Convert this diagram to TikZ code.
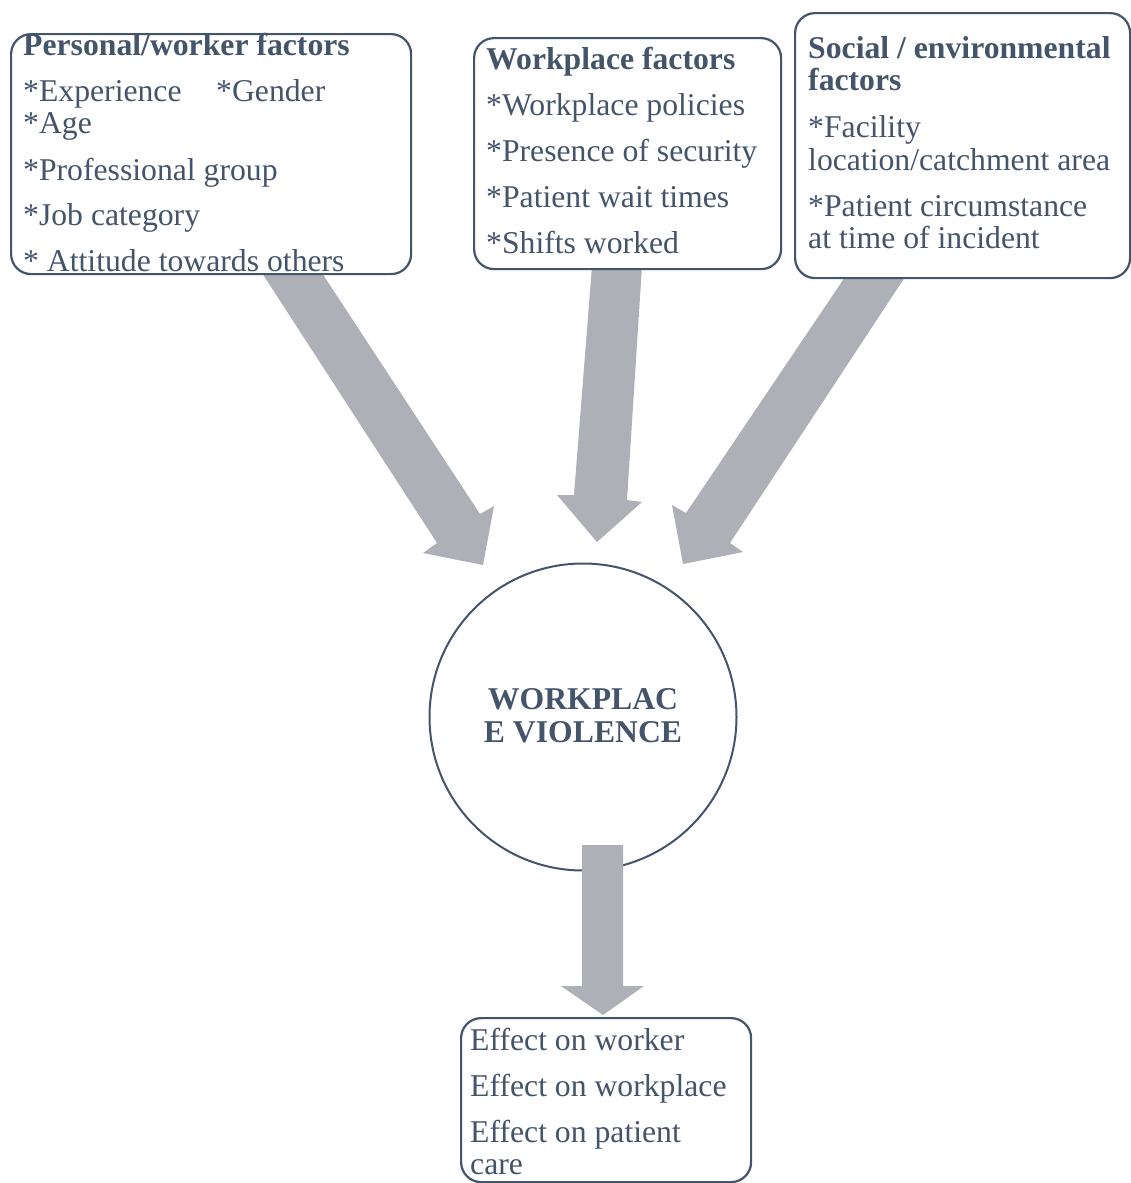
\documentclass[tikz,border=0pt]{standalone}
\usepackage{fontspec}
\setmainfont{Liberation Serif}
\definecolor{textc}{HTML}{44546A}
\definecolor{arrc}{RGB}{174,176,184}
\tikzset{
  box/.style={draw=textc, line width=2.2pt, rounded corners=20pt, fill=white, inner sep=0pt, anchor=north west},
  txt/.style={anchor=base west, inner sep=0pt, text=textc, font=\fontsize{31.7}{33}\selectfont},
  ctxt/.style={anchor=base, inner sep=0pt, text=textc, font=\fontsize{31.7}{33}\selectfont\bfseries},
  bigarrow/.style={fill=arrc, draw=none}
}
\begin{document}
\begin{tikzpicture}[x=1pt,y=-1pt]
\useasboundingbox (0,0) rectangle (1131,1183);
% circle
\node[circle, draw=textc, line width=2pt, fill=white, minimum size=307pt, inner sep=0pt] (c) at (583,717) {};
% arrows
\fill[bigarrow] (262,273) -- (437,543) -- (423,553) -- (483,565) -- (494,506) -- (480,514) -- (322,273) -- cycle;
\fill[bigarrow] (592,266) -- (574,495) -- (557,495) -- (597,542) -- (642,502) -- (627,500) -- (642,266) -- cycle;
\fill[bigarrow] (845,277) -- (686,513) -- (672,505) -- (683,564) -- (743,552) -- (730,543) -- (905,277) -- cycle;
\fill[bigarrow] (582,845) -- (582,986) -- (561,986) -- (603,1015) -- (644,986) -- (623,986) -- (623,845) -- cycle;
% boxes
\node[box, minimum width=400pt, minimum height=240pt] (b1) at (10,33) {};
\node[box, minimum width=307pt, minimum height=231pt] (b2) at (473,37) {};
\node[box, minimum width=335pt, minimum height=265pt] (b3) at (794,12) {};
\node[box, minimum width=290pt, minimum height=164pt] (b4) at (460,1017) {};
% box 1 text
\node[txt] (p0) at (23,55) {\bfseries Personal/worker factors};
\node[txt] (p1) at (23,101) {*Experience};
\node[txt] (p2) at (216,101) {*Gender};
\node[txt] (p3) at (23,133) {*Age};
\node[txt] (p4) at (23,180) {*Professional group};
\node[txt] (p5) at (23,225) {*Job category};
\node[txt] (p6) at (23,271) {* Attitude towards others};
% box 2 text
\node[txt] (w0) at (486,69) {\bfseries Workplace factors};
\node[txt] (w1) at (486,115) {*Workplace policies};
\node[txt] (w2) at (486,161) {*Presence of security};
\node[txt] (w3) at (486,207) {*Patient wait times};
\node[txt] (w4) at (486,253) {*Shifts worked};
% box 3 text
\node[txt] (s0) at (808,58) {\bfseries Social / environmental};
\node[txt] (s1) at (808,90) {\bfseries factors};
\node[txt] (s2) at (808,137) {*Facility};
\node[txt] (s3) at (808,170) {location/catchment area};
\node[txt] (s4) at (808,216) {*Patient circumstance};
\node[txt] (s5) at (808,248) {at time of incident};
% circle text
\node[ctxt] (c1) at (583,709) {WORKPLAC};
\node[ctxt] (c2) at (583,742) {E VIOLENCE};
% bottom box text
\node[txt] (e1) at (470,1050) {Effect on worker};
\node[txt] (e2) at (470,1096) {Effect on workplace};
\node[txt] (e3) at (470,1142) {Effect on patient};
\node[txt] (e4) at (470,1174) {care};
\end{tikzpicture}
\end{document}
